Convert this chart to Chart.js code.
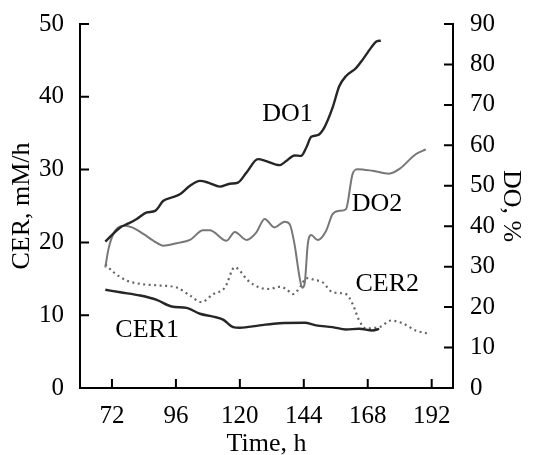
<!DOCTYPE html>
<html lang="en">
<head>
<meta charset="UTF-8">
<script src="https://cdn.jsdelivr.net/npm/chart.js@4.4.0/dist/chart.umd.min.js"></script>
<title>CER / DO</title>
<style>
  body { margin: 0; background: #fff; }
  canvas { display: block; }
</style>
</head>
<body>
<canvas id="chart1" width="533" height="455"></canvas>
<script>
// values
var xTicks = [72, 96, 120, 144, 168, 192];

var do1Time = [69.5, 75.1, 78.2, 81.3, 85.1, 88.2, 91.3, 94.4, 97.5, 101.3, 105, 108.1, 112.5, 116.2, 119.3, 122.5, 126.8, 129.9, 134.9, 137.4, 140.5, 143, 144.9, 146.8, 149.2, 151.7, 154.8, 157.3, 159.8, 163.6, 166.1, 169.2, 171.1, 172.9];
var do1 = [36.2, 39.7, 40.7, 41.8, 43.4, 43.8, 46.3, 47.1, 47.9, 50.0, 51.2, 50.8, 49.8, 50.5, 50.8, 53.3, 56.6, 56.1, 55.1, 56.1, 57.5, 57.4, 59.4, 62.1, 62.5, 64.4, 69.3, 74.6, 77.1, 79.1, 81.2, 84.1, 85.6, 85.9];

var do2Time = [69.5, 70.7, 73.2, 77, 79.5, 83.8, 87.6, 91.3, 96.3, 101.3, 106.2, 108.7, 115, 118.1, 122.5, 126.2, 129.3, 133, 136.8, 138.7, 140.5, 142.4, 143.4, 144.3, 145.5, 146.8, 149.2, 152.4, 154.8, 157.3, 159.8, 162.3, 164.2, 169.8, 176, 179.8, 186, 189.8];
var do2 = [29.8, 34.4, 38.9, 40.1, 39.7, 38.1, 36.4, 35.2, 35.8, 36.6, 39.0, 39.0, 36.4, 38.6, 36.6, 38.5, 41.8, 39.7, 41.1, 40.5, 35.6, 27.4, 24.8, 25.7, 35.6, 37.8, 36.6, 38.9, 43.0, 43.8, 44.2, 52.9, 54.1, 53.7, 53.0, 54.1, 57.8, 59.0];

var cer1Time = [69.5, 75.1, 82.6, 88.8, 94.4, 100, 105, 110, 113.7, 117.5, 120, 127.4, 134.9, 144.3, 148.6, 154.8, 159.8, 164.8, 169.8, 172.3];
var cer1 = [13.5, 13.15, 12.7, 12.1, 11.2, 11.0, 10.2, 9.8, 9.4, 8.36, 8.27, 8.6, 8.9, 8.96, 8.6, 8.36, 8.04, 8.13, 7.9, 8.13];

var cer2Time = [69.5, 72.6, 77.6, 82.6, 90.1, 96.3, 101.3, 105.6, 110, 114.4, 118.1, 120, 123.1, 127.4, 131.2, 134.9, 137.4, 139.9, 143, 144.9, 148, 151.1, 154.8, 159.8, 162.3, 164.8, 167.3, 172.9, 176.7, 181, 186, 191];
var cer2 = [17.0, 15.9, 14.75, 14.3, 14.07, 13.8, 12.7, 11.8, 12.9, 13.8, 16.6, 16.1, 14.75, 13.8, 13.6, 13.9, 13.6, 12.9, 14.07, 15.1, 14.85, 14.5, 13.15, 12.9, 11.56, 9.27, 8.2, 8.45, 9.27, 8.9, 7.9, 7.45];

// curve labels, placed in (hours, CER) units
var labelText = ['DO1', 'DO2', 'CER2', 'CER1'];
var labelTime = [137.9, 171.5, 175.3, 85.2];
var labelCer = [37.6, 25.3, 14.3, 7.9];

var serif = "'Liberation Serif', 'DejaVu Serif', serif";

function pts(t, v) {
    return t.map(function (x, i) { return { x: x, y: v[i] }; });
}

// inward tick marks + curve labels
var extras = {
    id: 'extras',
    afterDraw: function (chart) {
        var c = chart.ctx, a = chart.chartArea;
        var x = chart.scales.x, yl = chart.scales.y, yr = chart.scales.y2;
        c.save();
        c.strokeStyle = '#000';
        c.lineWidth = 2;
        c.beginPath();
        x.ticks.forEach(function (t) {
            var p = x.getPixelForValue(t.value);
            c.moveTo(p, a.bottom); c.lineTo(p, a.bottom - 9);
        });
        yl.ticks.forEach(function (t) {
            var p = yl.getPixelForValue(t.value);
            c.moveTo(a.left, p); c.lineTo(a.left + 9, p);
        });
        yr.ticks.forEach(function (t) {
            var p = yr.getPixelForValue(t.value);
            c.moveTo(a.right, p); c.lineTo(a.right - 9, p);
        });
        c.stroke();

        c.fillStyle = '#000';
        c.font = '26px ' + serif;
        c.textAlign = 'center';
        c.textBaseline = 'middle';
        labelText.forEach(function (s, i) {
            c.fillText(s, x.getPixelForValue(labelTime[i]), yl.getPixelForValue(labelCer[i]));
        });
        c.restore();
    }
};

var ctx = document.getElementById('chart1').getContext('2d');
var myChart = new Chart(ctx, {
    type: 'line',
    data: {
        datasets: [{
            label: 'DO1',
            data: pts(do1Time, do1),
            yAxisID: 'y2',
            borderColor: '#262626',
            borderWidth: 2.4
        }, {
            label: 'DO2',
            data: pts(do2Time, do2),
            yAxisID: 'y2',
            borderColor: '#777',
            borderWidth: 2
        }, {
            label: 'CER1',
            data: pts(cer1Time, cer1),
            yAxisID: 'y',
            borderColor: '#262626',
            borderWidth: 2.4
        }, {
            label: 'CER2',
            data: pts(cer2Time, cer2),
            yAxisID: 'y',
            borderColor: '#666',
            borderWidth: 2.2,
            borderDash: [2, 3.5]
        }]
    },
    options: {
        responsive: false,
        animation: false,
        layout: { padding: { top: 22, left: 0, right: 0, bottom: 0 } },
        elements: {
            point: { radius: 0 },
            line: { tension: 0.4, cubicInterpolationMode: 'monotone', fill: false }
        },
        plugins: { legend: { display: false }, tooltip: { enabled: false } },
        scales: {
            x: {
                type: 'linear',
                min: 60, max: 200,
                afterBuildTicks: function (s) { s.ticks = xTicks.map(function (v) { return { value: v }; }); },
                afterFit: function (s) { s.height = 67; },
                grid: { display: false },
                border: { display: true, color: '#000', width: 2 },
                ticks: { color: '#000', padding: 5, maxRotation: 0, font: { family: serif, size: 25 } },
                title: { display: true, text: 'Time, h', color: '#000', padding: 0, font: { family: serif, size: 26, lineHeight: 0.8 } }
            },
            y: {
                position: 'left',
                min: 0, max: 50,
                afterFit: function (s) { s.width = 80; },
                grid: { display: false },
                border: { display: true, color: '#000', width: 2 },
                ticks: { color: '#000', stepSize: 10, padding: 8, font: { family: serif, size: 25 } },
                title: { display: true, text: 'CER, mM/h', color: '#000', padding: { top: 7, bottom: 0 }, font: { family: serif, size: 26, lineHeight: 1.2 } }
            },
            y2: {
                position: 'right',
                min: 0, max: 90,
                afterFit: function (s) { s.width = 80; },
                grid: { display: false },
                border: { display: true, color: '#000', width: 2 },
                ticks: { color: '#000', stepSize: 10, padding: 9, font: { family: serif, size: 25 } },
                title: { display: true, text: 'DO, %', color: '#000', padding: { top: 7, bottom: 0 }, font: { family: serif, size: 26, lineHeight: 1.2 } }
            }
        }
    },
    plugins: [extras]
});
</script>
</body>
</html>
